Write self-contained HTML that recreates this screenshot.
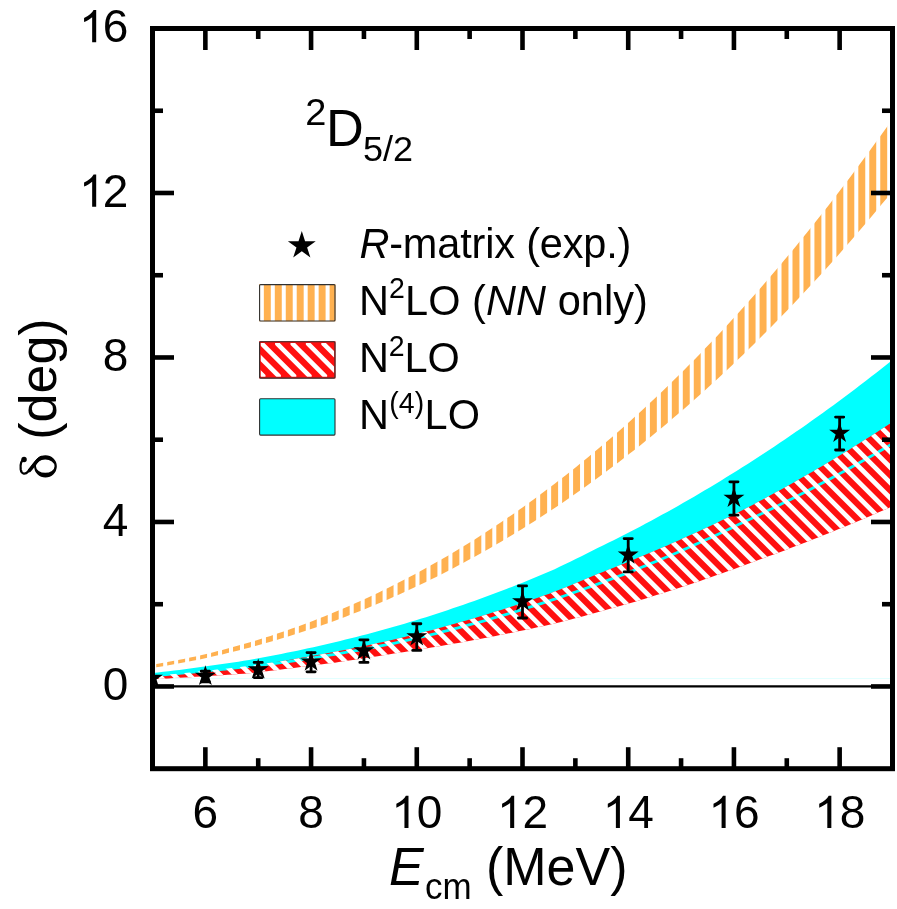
<!DOCTYPE html>
<html><head><meta charset="utf-8"><title>2D5/2 phase shift</title>
<style>html,body{margin:0;padding:0;background:#fff}svg{display:block}text{font-family:"Liberation Sans",sans-serif;fill:#000}</style></head><body>
<svg width="897" height="909" viewBox="0 0 897 909">
<defs>
<clipPath id="plot"><rect x="152.5" y="28.5" width="740.0" height="740.2"/></clipPath>
<clipPath id="cr"><path d="M147.21,676.29 L152.58,675.84 L157.94,675.38 L163.30,674.91 L168.66,674.42 L174.02,673.93 L179.38,673.43 L184.74,672.91 L190.10,672.39 L195.47,671.85 L200.83,671.31 L206.19,670.75 L211.55,670.18 L216.91,669.60 L222.27,669.02 L227.63,668.42 L232.99,667.81 L238.36,667.19 L243.72,666.55 L249.08,665.91 L254.44,665.16 L259.80,664.39 L265.16,663.60 L270.52,662.80 L275.88,661.97 L281.24,661.14 L286.61,660.28 L291.97,659.41 L297.33,658.52 L302.69,657.62 L308.05,656.70 L313.41,655.76 L318.77,654.80 L324.13,653.82 L329.50,652.83 L334.86,651.82 L340.22,650.80 L345.58,649.75 L350.94,648.69 L356.30,647.61 L361.66,646.51 L367.02,645.39 L372.39,644.26 L377.75,643.10 L383.11,641.93 L388.47,640.74 L393.83,639.50 L399.19,638.22 L404.55,636.93 L409.91,635.61 L415.28,634.27 L420.64,632.91 L426.00,631.53 L431.36,630.13 L436.72,628.71 L442.08,627.27 L447.44,625.80 L452.80,624.31 L458.17,622.80 L463.53,621.27 L468.89,619.72 L474.25,618.14 L479.61,616.54 L484.97,614.92 L490.33,613.28 L495.69,611.61 L501.06,609.92 L506.42,608.21 L511.78,606.48 L517.14,604.72 L522.50,602.94 L527.86,601.13 L533.22,599.31 L538.58,597.45 L543.94,595.58 L549.31,593.68 L554.67,591.62 L560.03,589.52 L565.39,587.39 L570.75,585.22 L576.11,583.03 L581.47,580.81 L586.83,578.56 L592.20,576.28 L597.56,573.99 L602.92,571.93 L608.28,569.84 L613.64,567.73 L619.00,565.60 L624.36,563.45 L629.72,561.27 L635.09,559.08 L640.45,556.86 L645.81,554.62 L651.17,552.35 L656.53,550.06 L661.89,547.75 L667.25,545.42 L672.61,543.07 L677.98,540.69 L683.34,538.29 L688.70,535.86 L694.06,533.41 L699.42,530.94 L704.78,528.45 L710.14,525.93 L715.50,523.39 L720.87,520.83 L726.23,518.24 L731.59,515.63 L736.95,512.99 L742.31,510.24 L747.67,507.45 L753.03,504.64 L758.39,501.80 L763.76,498.93 L769.12,496.04 L774.48,493.12 L779.84,490.17 L785.20,487.20 L790.56,484.20 L795.92,481.18 L801.28,478.12 L806.64,475.04 L812.01,471.93 L817.37,468.80 L822.73,465.64 L828.09,462.45 L833.45,459.23 L838.81,455.98 L844.17,452.71 L849.53,449.41 L854.90,446.08 L860.26,442.72 L865.62,439.34 L870.98,435.93 L876.34,432.49 L881.70,429.02 L887.06,425.52 L892.42,422.02 L897.79,418.52 L897.79,503.82 L892.42,506.25 L887.06,508.64 L881.70,510.99 L876.34,513.32 L870.98,515.63 L865.62,517.92 L860.26,520.20 L854.90,522.46 L849.53,524.69 L844.17,526.91 L838.81,529.11 L833.45,531.30 L828.09,533.46 L822.73,535.61 L817.37,537.74 L812.01,539.85 L806.64,541.94 L801.28,544.02 L795.92,546.08 L790.56,548.12 L785.20,550.14 L779.84,552.14 L774.48,554.13 L769.12,556.10 L763.76,558.05 L758.39,559.98 L753.03,561.99 L747.67,563.99 L742.31,565.98 L736.95,567.95 L731.59,569.90 L726.23,571.83 L720.87,573.74 L715.50,575.62 L710.14,577.49 L704.78,579.34 L699.42,581.17 L694.06,582.98 L688.70,584.78 L683.34,586.55 L677.98,588.30 L672.61,590.03 L667.25,591.75 L661.89,593.44 L656.53,595.12 L651.17,596.78 L645.81,598.42 L640.45,600.04 L635.09,601.64 L629.72,603.22 L624.36,604.79 L619.00,606.34 L613.64,607.86 L608.28,609.37 L602.92,610.87 L597.56,612.34 L592.20,613.80 L586.83,615.24 L581.47,616.66 L576.11,618.06 L570.75,619.45 L565.39,620.81 L560.03,622.16 L554.67,623.50 L549.31,624.80 L543.94,625.96 L538.58,627.11 L533.22,628.25 L527.86,629.38 L522.50,630.49 L517.14,631.60 L511.78,632.69 L506.42,633.76 L501.06,634.83 L495.69,635.88 L490.33,636.92 L484.97,637.94 L479.61,638.96 L474.25,639.96 L468.89,640.95 L463.53,641.93 L458.17,642.89 L452.80,643.85 L447.44,644.79 L442.08,645.72 L436.72,646.64 L431.36,647.54 L426.00,648.44 L420.64,649.32 L415.28,650.19 L409.91,651.05 L404.55,651.89 L399.19,652.73 L393.83,653.55 L388.47,654.39 L383.11,655.28 L377.75,656.16 L372.39,657.02 L367.02,657.86 L361.66,658.70 L356.30,659.51 L350.94,660.31 L345.58,661.10 L340.22,661.87 L334.86,662.63 L329.50,663.37 L324.13,664.09 L318.77,664.81 L313.41,665.51 L308.05,666.19 L302.69,666.86 L297.33,667.52 L291.97,668.16 L286.61,668.79 L281.24,669.49 L275.88,670.18 L270.52,670.84 L265.16,671.48 L259.80,672.11 L254.44,672.72 L249.08,673.31 L243.72,673.68 L238.36,674.05 L232.99,674.42 L227.63,674.78 L222.27,675.13 L216.91,675.48 L211.55,675.82 L206.19,676.16 L200.83,676.50 L195.47,676.82 L190.10,677.15 L184.74,677.46 L179.38,677.78 L174.02,678.08 L168.66,678.38 L163.30,678.68 L157.94,678.97 L152.58,679.26 L147.21,679.54Z"/></clipPath>
<clipPath id="co"><path d="M147.21,665.31 L152.58,664.50 L157.94,663.63 L163.30,662.73 L168.66,661.77 L174.02,660.78 L179.38,659.74 L184.74,658.66 L190.10,657.54 L195.47,656.38 L200.83,655.17 L206.19,653.93 L211.55,652.65 L216.91,651.32 L222.27,649.96 L227.63,648.55 L232.99,647.11 L238.36,645.62 L243.72,644.10 L249.08,642.53 L254.44,640.93 L259.80,639.29 L265.16,637.61 L270.52,635.88 L275.88,634.12 L281.24,632.32 L286.61,630.48 L291.97,628.60 L297.33,626.68 L302.69,624.72 L308.05,622.71 L313.41,620.67 L318.77,618.59 L324.13,616.46 L329.50,614.30 L334.86,612.09 L340.22,609.84 L345.58,607.55 L350.94,605.22 L356.30,602.85 L361.66,600.43 L367.02,597.98 L372.39,595.48 L377.75,592.93 L383.11,590.35 L388.47,587.72 L393.83,585.05 L399.19,582.33 L404.55,579.57 L409.91,576.77 L415.28,573.92 L420.64,571.03 L426.00,568.09 L431.36,565.11 L436.72,562.09 L442.08,559.02 L447.44,555.90 L452.80,552.74 L458.17,549.53 L463.53,546.27 L468.89,542.97 L474.25,539.63 L479.61,536.23 L484.97,532.79 L490.33,529.31 L495.69,525.77 L501.06,522.19 L506.42,518.56 L511.78,514.88 L517.14,511.15 L522.50,507.38 L527.86,503.56 L533.22,499.69 L538.58,495.77 L543.94,491.80 L549.31,487.78 L554.67,483.71 L560.03,479.59 L565.39,475.42 L570.75,471.20 L576.11,466.93 L581.47,462.62 L586.83,458.25 L592.20,453.82 L597.56,449.35 L602.92,444.83 L608.28,440.25 L613.64,435.63 L619.00,430.95 L624.36,426.22 L629.72,421.43 L635.09,416.60 L640.45,411.71 L645.81,406.77 L651.17,401.77 L656.53,396.73 L661.89,391.63 L667.25,386.47 L672.61,381.26 L677.98,376.00 L683.34,370.68 L688.70,365.31 L694.06,359.88 L699.42,354.40 L704.78,348.87 L710.14,343.28 L715.50,337.63 L720.87,331.93 L726.23,326.17 L731.59,320.36 L736.95,314.49 L742.31,308.56 L747.67,302.58 L753.03,296.54 L758.39,290.45 L763.76,284.29 L769.12,278.09 L774.48,271.82 L779.84,265.49 L785.20,259.11 L790.56,252.67 L795.92,246.17 L801.28,239.62 L806.64,233.00 L812.01,226.33 L817.37,219.60 L822.73,212.81 L828.09,205.96 L833.45,199.05 L838.81,192.08 L844.17,185.05 L849.53,177.96 L854.90,170.81 L860.26,163.61 L865.62,156.34 L870.98,149.01 L876.34,141.62 L881.70,134.17 L887.06,126.66 L892.42,119.09 L897.79,111.45 L897.79,184.75 L892.42,191.35 L887.06,197.89 L881.70,204.37 L876.34,210.81 L870.98,217.20 L865.62,223.53 L860.26,229.81 L854.90,236.05 L849.53,242.23 L844.17,248.36 L838.81,254.44 L833.45,260.47 L828.09,266.45 L822.73,272.38 L817.37,278.26 L812.01,284.09 L806.64,289.87 L801.28,295.60 L795.92,301.28 L790.56,306.91 L785.20,312.50 L779.84,318.03 L774.48,323.52 L769.12,328.95 L763.76,334.34 L758.39,339.68 L753.03,344.97 L747.67,350.21 L742.31,355.40 L736.95,360.55 L731.59,365.65 L726.23,370.70 L720.87,375.70 L715.50,380.66 L710.14,385.56 L704.78,390.42 L699.42,395.24 L694.06,400.01 L688.70,404.73 L683.34,409.40 L677.98,414.03 L672.61,418.61 L667.25,423.14 L661.89,427.63 L656.53,432.07 L651.17,436.47 L645.81,440.82 L640.45,445.13 L635.09,449.39 L629.72,453.61 L624.36,457.78 L619.00,461.90 L613.64,465.98 L608.28,470.02 L602.92,474.01 L597.56,477.96 L592.20,481.87 L586.83,485.73 L581.47,489.54 L576.11,493.32 L570.75,497.05 L565.39,500.73 L560.03,504.38 L554.67,507.98 L549.31,511.53 L543.94,515.05 L538.58,518.52 L533.22,521.95 L527.86,525.34 L522.50,528.69 L517.14,531.99 L511.78,535.25 L506.42,538.47 L501.06,541.65 L495.69,544.79 L490.33,547.89 L484.97,550.95 L479.61,553.96 L474.25,556.94 L468.89,559.87 L463.53,562.77 L458.17,565.62 L452.80,568.44 L447.44,571.22 L442.08,573.95 L436.72,576.65 L431.36,579.31 L426.00,581.93 L420.64,584.51 L415.28,587.05 L409.91,589.55 L404.55,592.02 L399.19,594.45 L393.83,596.84 L388.47,599.19 L383.11,601.50 L377.75,603.78 L372.39,606.02 L367.02,608.22 L361.66,610.39 L356.30,612.52 L350.94,614.61 L345.58,616.67 L340.22,618.69 L334.86,620.68 L329.50,622.63 L324.13,624.54 L318.77,626.42 L313.41,628.26 L308.05,630.07 L302.69,631.85 L297.33,633.59 L291.97,635.29 L286.61,636.96 L281.24,638.60 L275.88,640.20 L270.52,641.77 L265.16,643.30 L259.80,644.80 L254.44,646.27 L249.08,647.71 L243.72,649.11 L238.36,650.47 L232.99,651.81 L227.63,653.11 L222.27,654.38 L216.91,655.62 L211.55,656.82 L206.19,658.00 L200.83,659.14 L195.47,660.24 L190.10,661.32 L184.74,662.36 L179.38,663.37 L174.02,664.35 L168.66,665.29 L163.30,666.20 L157.94,667.08 L152.58,667.93 L147.21,668.74Z"/></clipPath>
<clipPath id="sw2"><rect x="260.7" y="342.9" width="73.4" height="33.8"/></clipPath>
</defs>
<rect width="897" height="909" fill="#fff"/>
<g clip-path="url(#plot)">
<line x1="150" x2="895" y1="678.5" y2="678.5" stroke="#e2ffff" stroke-width="1"/>
<g clip-path="url(#co)">
<rect x="880.25" y="100" width="6.95" height="600" fill="#FFB150"/>
<rect x="869.28" y="100" width="6.95" height="600" fill="#FFB150"/>
<rect x="858.31" y="100" width="6.95" height="600" fill="#FFB150"/>
<rect x="847.34" y="100" width="6.95" height="600" fill="#FFB150"/>
<rect x="836.37" y="100" width="6.95" height="600" fill="#FFB150"/>
<rect x="825.40" y="100" width="6.95" height="600" fill="#FFB150"/>
<rect x="814.43" y="100" width="6.95" height="600" fill="#FFB150"/>
<rect x="803.46" y="100" width="6.95" height="600" fill="#FFB150"/>
<rect x="792.49" y="100" width="6.95" height="600" fill="#FFB150"/>
<rect x="781.52" y="100" width="6.95" height="600" fill="#FFB150"/>
<rect x="770.55" y="100" width="6.95" height="600" fill="#FFB150"/>
<rect x="759.58" y="100" width="6.95" height="600" fill="#FFB150"/>
<rect x="748.61" y="100" width="6.95" height="600" fill="#FFB150"/>
<rect x="737.64" y="100" width="6.95" height="600" fill="#FFB150"/>
<rect x="726.67" y="100" width="6.95" height="600" fill="#FFB150"/>
<rect x="715.70" y="100" width="6.95" height="600" fill="#FFB150"/>
<rect x="704.73" y="100" width="6.95" height="600" fill="#FFB150"/>
<rect x="693.76" y="100" width="6.95" height="600" fill="#FFB150"/>
<rect x="682.79" y="100" width="6.95" height="600" fill="#FFB150"/>
<rect x="671.82" y="100" width="6.95" height="600" fill="#FFB150"/>
<rect x="660.85" y="100" width="6.95" height="600" fill="#FFB150"/>
<rect x="649.88" y="100" width="6.95" height="600" fill="#FFB150"/>
<rect x="638.91" y="100" width="6.95" height="600" fill="#FFB150"/>
<rect x="627.94" y="100" width="6.95" height="600" fill="#FFB150"/>
<rect x="616.97" y="100" width="6.95" height="600" fill="#FFB150"/>
<rect x="606.00" y="100" width="6.95" height="600" fill="#FFB150"/>
<rect x="595.03" y="100" width="6.95" height="600" fill="#FFB150"/>
<rect x="584.06" y="100" width="6.95" height="600" fill="#FFB150"/>
<rect x="573.09" y="100" width="6.95" height="600" fill="#FFB150"/>
<rect x="562.12" y="100" width="6.95" height="600" fill="#FFB150"/>
<rect x="551.15" y="100" width="6.95" height="600" fill="#FFB150"/>
<rect x="540.18" y="100" width="6.95" height="600" fill="#FFB150"/>
<rect x="529.21" y="100" width="6.95" height="600" fill="#FFB150"/>
<rect x="518.24" y="100" width="6.95" height="600" fill="#FFB150"/>
<rect x="507.27" y="100" width="6.95" height="600" fill="#FFB150"/>
<rect x="496.30" y="100" width="6.95" height="600" fill="#FFB150"/>
<rect x="485.33" y="100" width="6.95" height="600" fill="#FFB150"/>
<rect x="474.36" y="100" width="6.95" height="600" fill="#FFB150"/>
<rect x="463.39" y="100" width="6.95" height="600" fill="#FFB150"/>
<rect x="452.42" y="100" width="6.95" height="600" fill="#FFB150"/>
<rect x="441.45" y="100" width="6.95" height="600" fill="#FFB150"/>
<rect x="430.48" y="100" width="6.95" height="600" fill="#FFB150"/>
<rect x="419.51" y="100" width="6.95" height="600" fill="#FFB150"/>
<rect x="408.54" y="100" width="6.95" height="600" fill="#FFB150"/>
<rect x="397.57" y="100" width="6.95" height="600" fill="#FFB150"/>
<rect x="386.60" y="100" width="6.95" height="600" fill="#FFB150"/>
<rect x="375.63" y="100" width="6.95" height="600" fill="#FFB150"/>
<rect x="364.66" y="100" width="6.95" height="600" fill="#FFB150"/>
<rect x="353.69" y="100" width="6.95" height="600" fill="#FFB150"/>
<rect x="342.72" y="100" width="6.95" height="600" fill="#FFB150"/>
<rect x="331.75" y="100" width="6.95" height="600" fill="#FFB150"/>
<rect x="320.78" y="100" width="6.95" height="600" fill="#FFB150"/>
<rect x="309.81" y="100" width="6.95" height="600" fill="#FFB150"/>
<rect x="298.84" y="100" width="6.95" height="600" fill="#FFB150"/>
<rect x="287.87" y="100" width="6.95" height="600" fill="#FFB150"/>
<rect x="276.90" y="100" width="6.95" height="600" fill="#FFB150"/>
<rect x="265.93" y="100" width="6.95" height="600" fill="#FFB150"/>
<rect x="254.96" y="100" width="6.95" height="600" fill="#FFB150"/>
<rect x="243.99" y="100" width="6.95" height="600" fill="#FFB150"/>
<rect x="233.02" y="100" width="6.95" height="600" fill="#FFB150"/>
<rect x="222.05" y="100" width="6.95" height="600" fill="#FFB150"/>
<rect x="211.08" y="100" width="6.95" height="600" fill="#FFB150"/>
<rect x="200.11" y="100" width="6.95" height="600" fill="#FFB150"/>
<rect x="189.14" y="100" width="6.95" height="600" fill="#FFB150"/>
<rect x="178.17" y="100" width="6.95" height="600" fill="#FFB150"/>
<rect x="167.20" y="100" width="6.95" height="600" fill="#FFB150"/>
<rect x="156.23" y="100" width="6.95" height="600" fill="#FFB150"/>
<rect x="145.26" y="100" width="6.95" height="600" fill="#FFB150"/>
<rect x="134.29" y="100" width="6.95" height="600" fill="#FFB150"/>
</g>
<path d="M147.21,673.63 L152.58,673.04 L157.94,672.44 L163.30,671.82 L168.66,671.19 L174.02,670.55 L179.38,669.89 L184.74,669.21 L190.10,668.52 L195.47,667.82 L200.83,667.10 L206.19,666.36 L211.55,665.62 L216.91,664.85 L222.27,664.07 L227.63,663.28 L232.99,662.47 L238.36,661.65 L243.72,660.81 L249.08,659.96 L254.44,659.00 L259.80,658.03 L265.16,657.03 L270.52,656.01 L275.88,654.98 L281.24,653.92 L286.61,652.85 L291.97,651.75 L297.33,650.63 L302.69,649.49 L308.05,648.33 L313.41,647.15 L318.77,645.95 L324.13,644.73 L329.50,643.48 L334.86,642.22 L340.22,640.93 L345.58,639.62 L350.94,638.29 L356.30,636.94 L361.66,635.57 L367.02,634.17 L372.39,632.75 L377.75,631.31 L383.11,629.85 L388.47,628.36 L393.83,626.84 L399.19,625.28 L404.55,623.70 L409.91,622.09 L415.28,620.46 L420.64,618.81 L426.00,617.13 L431.36,615.43 L436.72,613.70 L442.08,611.95 L447.44,610.17 L452.80,608.37 L458.17,606.55 L463.53,604.70 L468.89,602.82 L474.25,600.92 L479.61,598.99 L484.97,597.04 L490.33,595.06 L495.69,593.06 L501.06,591.03 L506.42,588.98 L511.78,586.90 L517.14,584.79 L522.50,582.66 L527.86,580.50 L533.22,578.32 L538.58,576.10 L543.94,573.87 L549.31,571.60 L554.67,569.14 L560.03,566.62 L565.39,564.06 L570.75,561.47 L576.11,558.85 L581.47,556.19 L586.83,553.50 L592.20,550.77 L597.56,548.03 L602.92,545.43 L608.28,542.79 L613.64,540.13 L619.00,537.44 L624.36,534.72 L629.72,531.97 L635.09,529.19 L640.45,526.38 L645.81,523.55 L651.17,520.68 L656.53,517.78 L661.89,514.85 L667.25,511.89 L672.61,508.91 L677.98,505.89 L683.34,502.84 L688.70,499.76 L694.06,496.65 L699.42,493.51 L704.78,490.34 L710.14,487.14 L715.50,483.90 L720.87,480.64 L726.23,477.34 L731.59,474.02 L736.95,470.66 L742.31,467.29 L747.67,463.88 L753.03,460.45 L758.39,456.99 L763.76,453.49 L769.12,449.96 L774.48,446.40 L779.84,442.81 L785.20,439.19 L790.56,435.54 L795.92,431.85 L801.28,428.13 L806.64,424.38 L812.01,420.60 L817.37,416.78 L822.73,412.94 L828.09,409.06 L833.45,405.15 L838.81,401.20 L844.17,397.23 L849.53,393.22 L854.90,389.17 L860.26,385.10 L865.62,380.99 L870.98,376.85 L876.34,372.67 L881.70,368.47 L887.06,364.22 L892.42,359.94 L897.79,355.61 L897.79,440.48 L892.42,443.73 L887.06,446.91 L881.70,450.03 L876.34,453.12 L870.98,456.19 L865.62,459.24 L860.26,462.26 L854.90,465.26 L849.53,468.24 L844.17,471.19 L838.81,474.11 L833.45,477.02 L828.09,479.90 L822.73,482.76 L817.37,485.59 L812.01,488.40 L806.64,491.19 L801.28,493.95 L795.92,496.69 L790.56,499.41 L785.20,502.10 L779.84,504.78 L774.48,507.42 L769.12,510.05 L763.76,512.65 L758.39,515.23 L753.03,517.79 L747.67,520.32 L742.31,522.84 L736.95,525.33 L731.59,527.89 L726.23,530.43 L720.87,532.95 L715.50,535.44 L710.14,537.90 L704.78,540.34 L699.42,542.76 L694.06,545.15 L688.70,547.52 L683.34,549.86 L677.98,552.18 L672.61,554.48 L667.25,556.75 L661.89,559.00 L656.53,561.22 L651.17,563.42 L645.81,565.60 L640.45,567.75 L635.09,569.88 L629.72,571.99 L624.36,574.07 L619.00,576.13 L613.64,578.17 L608.28,580.18 L602.92,582.18 L597.56,584.15 L592.20,586.09 L586.83,588.01 L581.47,589.92 L576.11,591.79 L570.75,593.65 L565.39,595.49 L560.03,597.30 L554.67,599.09 L549.31,600.86 L543.94,602.62 L538.58,604.36 L533.22,606.07 L527.86,607.77 L522.50,609.44 L517.14,611.09 L511.78,612.72 L506.42,614.32 L501.06,615.91 L495.69,617.47 L490.33,619.01 L484.97,620.54 L479.61,622.04 L474.25,623.52 L468.89,624.97 L463.53,626.41 L458.17,627.83 L452.80,629.23 L447.44,630.60 L442.08,631.96 L436.72,633.30 L431.36,634.61 L426.00,635.91 L420.64,637.18 L415.28,638.44 L409.91,639.67 L404.55,640.89 L399.19,642.09 L393.83,643.27 L388.47,644.40 L383.11,645.46 L377.75,646.50 L372.39,647.52 L367.02,648.53 L361.66,649.53 L356.30,650.51 L350.94,651.47 L345.58,652.42 L340.22,653.36 L334.86,654.28 L329.50,655.18 L324.13,656.07 L318.77,656.94 L313.41,657.80 L308.05,658.65 L302.69,659.48 L297.33,660.30 L291.97,661.10 L286.61,661.88 L281.24,662.57 L275.88,663.24 L270.52,663.90 L265.16,664.55 L259.80,665.19 L254.44,665.82 L249.08,666.45 L243.72,667.03 L238.36,667.61 L232.99,668.18 L227.63,668.74 L222.27,669.29 L216.91,669.83 L211.55,670.37 L206.19,670.90 L200.83,671.41 L195.47,671.92 L190.10,672.42 L184.74,672.91 L179.38,673.39 L174.02,673.87 L168.66,674.33 L163.30,674.79 L157.94,675.24 L152.58,675.68 L147.21,676.11Z" fill="#00ffff"/>
<path d="M147.21,676.29 L152.58,675.84 L157.94,675.38 L163.30,674.91 L168.66,674.42 L174.02,673.93 L179.38,673.43 L184.74,672.91 L190.10,672.39 L195.47,671.85 L200.83,671.31 L206.19,670.75 L211.55,670.18 L216.91,669.60 L222.27,669.02 L227.63,668.42 L232.99,667.81 L238.36,667.19 L243.72,666.55 L249.08,665.91 L254.44,665.16 L259.80,664.39 L265.16,663.60 L270.52,662.80 L275.88,661.97 L281.24,661.14 L286.61,660.28 L291.97,659.41 L297.33,658.52 L302.69,657.62 L308.05,656.70 L313.41,655.76 L318.77,654.80 L324.13,653.82 L329.50,652.83 L334.86,651.82 L340.22,650.80 L345.58,649.75 L350.94,648.69 L356.30,647.61 L361.66,646.51 L367.02,645.39 L372.39,644.26 L377.75,643.10 L383.11,641.93 L388.47,640.74 L393.83,639.50 L399.19,638.22 L404.55,636.93 L409.91,635.61 L415.28,634.27 L420.64,632.91 L426.00,631.53 L431.36,630.13 L436.72,628.71 L442.08,627.27 L447.44,625.80 L452.80,624.31 L458.17,622.80 L463.53,621.27 L468.89,619.72 L474.25,618.14 L479.61,616.54 L484.97,614.92 L490.33,613.28 L495.69,611.61 L501.06,609.92 L506.42,608.21 L511.78,606.48 L517.14,604.72 L522.50,602.94 L527.86,601.13 L533.22,599.31 L538.58,597.45 L543.94,595.58 L549.31,593.68 L554.67,591.62 L560.03,589.52 L565.39,587.39 L570.75,585.22 L576.11,583.03 L581.47,580.81 L586.83,578.56 L592.20,576.28 L597.56,573.99 L602.92,571.93 L608.28,569.84 L613.64,567.73 L619.00,565.60 L624.36,563.45 L629.72,561.27 L635.09,559.08 L640.45,556.86 L645.81,554.62 L651.17,552.35 L656.53,550.06 L661.89,547.75 L667.25,545.42 L672.61,543.07 L677.98,540.69 L683.34,538.29 L688.70,535.86 L694.06,533.41 L699.42,530.94 L704.78,528.45 L710.14,525.93 L715.50,523.39 L720.87,520.83 L726.23,518.24 L731.59,515.63 L736.95,512.99 L742.31,510.24 L747.67,507.45 L753.03,504.64 L758.39,501.80 L763.76,498.93 L769.12,496.04 L774.48,493.12 L779.84,490.17 L785.20,487.20 L790.56,484.20 L795.92,481.18 L801.28,478.12 L806.64,475.04 L812.01,471.93 L817.37,468.80 L822.73,465.64 L828.09,462.45 L833.45,459.23 L838.81,455.98 L844.17,452.71 L849.53,449.41 L854.90,446.08 L860.26,442.72 L865.62,439.34 L870.98,435.93 L876.34,432.49 L881.70,429.02 L887.06,425.52 L892.42,422.02 L897.79,418.52 L897.79,503.82 L892.42,506.25 L887.06,508.64 L881.70,510.99 L876.34,513.32 L870.98,515.63 L865.62,517.92 L860.26,520.20 L854.90,522.46 L849.53,524.69 L844.17,526.91 L838.81,529.11 L833.45,531.30 L828.09,533.46 L822.73,535.61 L817.37,537.74 L812.01,539.85 L806.64,541.94 L801.28,544.02 L795.92,546.08 L790.56,548.12 L785.20,550.14 L779.84,552.14 L774.48,554.13 L769.12,556.10 L763.76,558.05 L758.39,559.98 L753.03,561.99 L747.67,563.99 L742.31,565.98 L736.95,567.95 L731.59,569.90 L726.23,571.83 L720.87,573.74 L715.50,575.62 L710.14,577.49 L704.78,579.34 L699.42,581.17 L694.06,582.98 L688.70,584.78 L683.34,586.55 L677.98,588.30 L672.61,590.03 L667.25,591.75 L661.89,593.44 L656.53,595.12 L651.17,596.78 L645.81,598.42 L640.45,600.04 L635.09,601.64 L629.72,603.22 L624.36,604.79 L619.00,606.34 L613.64,607.86 L608.28,609.37 L602.92,610.87 L597.56,612.34 L592.20,613.80 L586.83,615.24 L581.47,616.66 L576.11,618.06 L570.75,619.45 L565.39,620.81 L560.03,622.16 L554.67,623.50 L549.31,624.80 L543.94,625.96 L538.58,627.11 L533.22,628.25 L527.86,629.38 L522.50,630.49 L517.14,631.60 L511.78,632.69 L506.42,633.76 L501.06,634.83 L495.69,635.88 L490.33,636.92 L484.97,637.94 L479.61,638.96 L474.25,639.96 L468.89,640.95 L463.53,641.93 L458.17,642.89 L452.80,643.85 L447.44,644.79 L442.08,645.72 L436.72,646.64 L431.36,647.54 L426.00,648.44 L420.64,649.32 L415.28,650.19 L409.91,651.05 L404.55,651.89 L399.19,652.73 L393.83,653.55 L388.47,654.39 L383.11,655.28 L377.75,656.16 L372.39,657.02 L367.02,657.86 L361.66,658.70 L356.30,659.51 L350.94,660.31 L345.58,661.10 L340.22,661.87 L334.86,662.63 L329.50,663.37 L324.13,664.09 L318.77,664.81 L313.41,665.51 L308.05,666.19 L302.69,666.86 L297.33,667.52 L291.97,668.16 L286.61,668.79 L281.24,669.49 L275.88,670.18 L270.52,670.84 L265.16,671.48 L259.80,672.11 L254.44,672.72 L249.08,673.31 L243.72,673.68 L238.36,674.05 L232.99,674.42 L227.63,674.78 L222.27,675.13 L216.91,675.48 L211.55,675.82 L206.19,676.16 L200.83,676.50 L195.47,676.82 L190.10,677.15 L184.74,677.46 L179.38,677.78 L174.02,678.08 L168.66,678.38 L163.30,678.68 L157.94,678.97 L152.58,679.26 L147.21,679.54Z" fill="#FF1010"/>
<path d="M147.21,676.11 L152.58,675.68 L157.94,675.24 L163.30,674.79 L168.66,674.33 L174.02,673.87 L179.38,673.39 L184.74,672.91 L190.10,672.42 L195.47,671.92 L200.83,671.41 L206.19,670.90 L211.55,670.37 L216.91,669.83 L222.27,669.29 L227.63,668.74 L232.99,668.18 L238.36,667.61 L243.72,667.03 L249.08,666.45 L254.44,665.82 L259.80,665.19 L265.16,664.55 L270.52,663.90 L275.88,663.24 L281.24,662.57 L286.61,661.88 L291.97,661.10 L297.33,660.30 L302.69,659.48 L308.05,658.65 L313.41,657.80 L318.77,656.94 L324.13,656.07 L329.50,655.18 L334.86,654.28 L340.22,653.36 L345.58,652.42 L350.94,651.47 L356.30,650.51 L361.66,649.53 L367.02,648.53 L372.39,647.52 L377.75,646.50 L383.11,645.46 L388.47,644.40 L393.83,643.27 L399.19,642.09 L404.55,640.89 L409.91,639.67 L415.28,638.44 L420.64,637.18 L426.00,635.91 L431.36,634.61 L436.72,633.30 L442.08,631.96 L447.44,630.60 L452.80,629.23 L458.17,627.83 L463.53,626.41 L468.89,624.97 L474.25,623.52 L479.61,622.04 L484.97,620.54 L490.33,619.01 L495.69,617.47 L501.06,615.91 L506.42,614.32 L511.78,612.72 L517.14,611.09 L522.50,609.44 L527.86,607.77 L533.22,606.07 L538.58,604.36 L543.94,602.62 L549.31,600.86 L554.67,599.09 L560.03,597.30 L565.39,595.49 L570.75,593.65 L576.11,591.79 L581.47,589.92 L586.83,588.01 L592.20,586.09 L597.56,584.15 L602.92,582.18 L608.28,580.18 L613.64,578.17 L619.00,576.13 L624.36,574.07 L629.72,571.99 L635.09,569.88 L640.45,567.75 L645.81,565.60 L651.17,563.42 L656.53,561.22 L661.89,559.00 L667.25,556.75 L672.61,554.48 L677.98,552.18 L683.34,549.86 L688.70,547.52 L694.06,545.15 L699.42,542.76 L704.78,540.34 L710.14,537.90 L715.50,535.44 L720.87,532.95 L726.23,530.43 L731.59,527.89 L736.95,525.33 L742.31,522.84 L747.67,520.32 L753.03,517.79 L758.39,515.23 L763.76,512.65 L769.12,510.05 L774.48,507.42 L779.84,504.78 L785.20,502.10 L790.56,499.41 L795.92,496.69 L801.28,493.95 L806.64,491.19 L812.01,488.40 L817.37,485.59 L822.73,482.76 L828.09,479.90 L833.45,477.02 L838.81,474.11 L844.17,471.19 L849.53,468.24 L854.90,465.26 L860.26,462.26 L865.62,459.24 L870.98,456.19 L876.34,453.12 L881.70,450.03 L887.06,446.91 L892.42,443.73 L897.79,440.48" fill="none" stroke="#00ffff" stroke-width="2.80"/>
<g clip-path="url(#cr)" stroke="#fff" stroke-width="4.70">
<line x1="-817.10" y1="300" x2="-397.10" y2="720"/>
<line x1="-801.70" y1="300" x2="-381.70" y2="720"/>
<line x1="-786.30" y1="300" x2="-366.30" y2="720"/>
<line x1="-770.90" y1="300" x2="-350.90" y2="720"/>
<line x1="-755.50" y1="300" x2="-335.50" y2="720"/>
<line x1="-740.10" y1="300" x2="-320.10" y2="720"/>
<line x1="-724.70" y1="300" x2="-304.70" y2="720"/>
<line x1="-709.30" y1="300" x2="-289.30" y2="720"/>
<line x1="-693.90" y1="300" x2="-273.90" y2="720"/>
<line x1="-678.50" y1="300" x2="-258.50" y2="720"/>
<line x1="-663.10" y1="300" x2="-243.10" y2="720"/>
<line x1="-647.70" y1="300" x2="-227.70" y2="720"/>
<line x1="-632.30" y1="300" x2="-212.30" y2="720"/>
<line x1="-616.90" y1="300" x2="-196.90" y2="720"/>
<line x1="-601.50" y1="300" x2="-181.50" y2="720"/>
<line x1="-586.10" y1="300" x2="-166.10" y2="720"/>
<line x1="-570.70" y1="300" x2="-150.70" y2="720"/>
<line x1="-555.30" y1="300" x2="-135.30" y2="720"/>
<line x1="-539.90" y1="300" x2="-119.90" y2="720"/>
<line x1="-524.50" y1="300" x2="-104.50" y2="720"/>
<line x1="-509.10" y1="300" x2="-89.10" y2="720"/>
<line x1="-493.70" y1="300" x2="-73.70" y2="720"/>
<line x1="-478.30" y1="300" x2="-58.30" y2="720"/>
<line x1="-462.90" y1="300" x2="-42.90" y2="720"/>
<line x1="-447.50" y1="300" x2="-27.50" y2="720"/>
<line x1="-432.10" y1="300" x2="-12.10" y2="720"/>
<line x1="-416.70" y1="300" x2="3.30" y2="720"/>
<line x1="-401.30" y1="300" x2="18.70" y2="720"/>
<line x1="-385.90" y1="300" x2="34.10" y2="720"/>
<line x1="-370.50" y1="300" x2="49.50" y2="720"/>
<line x1="-355.10" y1="300" x2="64.90" y2="720"/>
<line x1="-339.70" y1="300" x2="80.30" y2="720"/>
<line x1="-324.30" y1="300" x2="95.70" y2="720"/>
<line x1="-308.90" y1="300" x2="111.10" y2="720"/>
<line x1="-293.50" y1="300" x2="126.50" y2="720"/>
<line x1="-278.10" y1="300" x2="141.90" y2="720"/>
<line x1="-262.70" y1="300" x2="157.30" y2="720"/>
<line x1="-247.30" y1="300" x2="172.70" y2="720"/>
<line x1="-231.90" y1="300" x2="188.10" y2="720"/>
<line x1="-216.50" y1="300" x2="203.50" y2="720"/>
<line x1="-201.10" y1="300" x2="218.90" y2="720"/>
<line x1="-185.70" y1="300" x2="234.30" y2="720"/>
<line x1="-170.30" y1="300" x2="249.70" y2="720"/>
<line x1="-154.90" y1="300" x2="265.10" y2="720"/>
<line x1="-139.50" y1="300" x2="280.50" y2="720"/>
<line x1="-124.10" y1="300" x2="295.90" y2="720"/>
<line x1="-108.70" y1="300" x2="311.30" y2="720"/>
<line x1="-93.30" y1="300" x2="326.70" y2="720"/>
<line x1="-77.90" y1="300" x2="342.10" y2="720"/>
<line x1="-62.50" y1="300" x2="357.50" y2="720"/>
<line x1="-47.10" y1="300" x2="372.90" y2="720"/>
<line x1="-31.70" y1="300" x2="388.30" y2="720"/>
<line x1="-16.30" y1="300" x2="403.70" y2="720"/>
<line x1="-0.90" y1="300" x2="419.10" y2="720"/>
<line x1="14.50" y1="300" x2="434.50" y2="720"/>
<line x1="29.90" y1="300" x2="449.90" y2="720"/>
<line x1="45.30" y1="300" x2="465.30" y2="720"/>
<line x1="60.70" y1="300" x2="480.70" y2="720"/>
<line x1="76.10" y1="300" x2="496.10" y2="720"/>
<line x1="91.50" y1="300" x2="511.50" y2="720"/>
<line x1="106.90" y1="300" x2="526.90" y2="720"/>
<line x1="122.30" y1="300" x2="542.30" y2="720"/>
<line x1="137.70" y1="300" x2="557.70" y2="720"/>
<line x1="153.10" y1="300" x2="573.10" y2="720"/>
<line x1="168.50" y1="300" x2="588.50" y2="720"/>
<line x1="183.90" y1="300" x2="603.90" y2="720"/>
<line x1="199.30" y1="300" x2="619.30" y2="720"/>
<line x1="214.70" y1="300" x2="634.70" y2="720"/>
<line x1="230.10" y1="300" x2="650.10" y2="720"/>
<line x1="245.50" y1="300" x2="665.50" y2="720"/>
<line x1="260.90" y1="300" x2="680.90" y2="720"/>
<line x1="276.30" y1="300" x2="696.30" y2="720"/>
<line x1="291.70" y1="300" x2="711.70" y2="720"/>
<line x1="307.10" y1="300" x2="727.10" y2="720"/>
<line x1="322.50" y1="300" x2="742.50" y2="720"/>
<line x1="337.90" y1="300" x2="757.90" y2="720"/>
<line x1="353.30" y1="300" x2="773.30" y2="720"/>
<line x1="368.70" y1="300" x2="788.70" y2="720"/>
<line x1="384.10" y1="300" x2="804.10" y2="720"/>
<line x1="399.50" y1="300" x2="819.50" y2="720"/>
<line x1="414.90" y1="300" x2="834.90" y2="720"/>
<line x1="430.30" y1="300" x2="850.30" y2="720"/>
<line x1="445.70" y1="300" x2="865.70" y2="720"/>
<line x1="461.10" y1="300" x2="881.10" y2="720"/>
<line x1="476.50" y1="300" x2="896.50" y2="720"/>
<line x1="491.90" y1="300" x2="911.90" y2="720"/>
<line x1="507.30" y1="300" x2="927.30" y2="720"/>
<line x1="522.70" y1="300" x2="942.70" y2="720"/>
<line x1="538.10" y1="300" x2="958.10" y2="720"/>
<line x1="553.50" y1="300" x2="973.50" y2="720"/>
<line x1="568.90" y1="300" x2="988.90" y2="720"/>
<line x1="584.30" y1="300" x2="1004.30" y2="720"/>
<line x1="599.70" y1="300" x2="1019.70" y2="720"/>
<line x1="615.10" y1="300" x2="1035.10" y2="720"/>
<line x1="630.50" y1="300" x2="1050.50" y2="720"/>
<line x1="645.90" y1="300" x2="1065.90" y2="720"/>
<line x1="661.30" y1="300" x2="1081.30" y2="720"/>
<line x1="676.70" y1="300" x2="1096.70" y2="720"/>
<line x1="692.10" y1="300" x2="1112.10" y2="720"/>
<line x1="707.50" y1="300" x2="1127.50" y2="720"/>
<line x1="722.90" y1="300" x2="1142.90" y2="720"/>
<line x1="738.30" y1="300" x2="1158.30" y2="720"/>
<line x1="753.70" y1="300" x2="1173.70" y2="720"/>
<line x1="769.10" y1="300" x2="1189.10" y2="720"/>
<line x1="784.50" y1="300" x2="1204.50" y2="720"/>
<line x1="799.90" y1="300" x2="1219.90" y2="720"/>
<line x1="815.30" y1="300" x2="1235.30" y2="720"/>
<line x1="830.70" y1="300" x2="1250.70" y2="720"/>
<line x1="846.10" y1="300" x2="1266.10" y2="720"/>
<line x1="861.50" y1="300" x2="1281.50" y2="720"/>
<line x1="876.90" y1="300" x2="1296.90" y2="720"/>
<line x1="892.30" y1="300" x2="1312.30" y2="720"/>
<line x1="907.70" y1="300" x2="1327.70" y2="720"/>
<line x1="923.10" y1="300" x2="1343.10" y2="720"/>
<line x1="938.50" y1="300" x2="1358.50" y2="720"/>
<line x1="953.90" y1="300" x2="1373.90" y2="720"/>
<line x1="969.30" y1="300" x2="1389.30" y2="720"/>
<line x1="984.70" y1="300" x2="1404.70" y2="720"/>
<line x1="1000.10" y1="300" x2="1420.10" y2="720"/>
<line x1="1015.50" y1="300" x2="1435.50" y2="720"/>
<line x1="1030.90" y1="300" x2="1450.90" y2="720"/>
<line x1="1046.30" y1="300" x2="1466.30" y2="720"/>
<line x1="1061.70" y1="300" x2="1481.70" y2="720"/>
<line x1="1077.10" y1="300" x2="1497.10" y2="720"/>
<line x1="1092.50" y1="300" x2="1512.50" y2="720"/>
<line x1="1107.90" y1="300" x2="1527.90" y2="720"/>
<line x1="1123.30" y1="300" x2="1543.30" y2="720"/>
<line x1="1138.70" y1="300" x2="1558.70" y2="720"/>
<line x1="1154.10" y1="300" x2="1574.10" y2="720"/>
<line x1="1169.50" y1="300" x2="1589.50" y2="720"/>
<line x1="1184.90" y1="300" x2="1604.90" y2="720"/>
<line x1="1200.30" y1="300" x2="1620.30" y2="720"/>
<line x1="1215.70" y1="300" x2="1635.70" y2="720"/>
<line x1="1231.10" y1="300" x2="1651.10" y2="720"/>
<line x1="1246.50" y1="300" x2="1666.50" y2="720"/>
<line x1="1261.90" y1="300" x2="1681.90" y2="720"/>
<line x1="1277.30" y1="300" x2="1697.30" y2="720"/>
<line x1="1292.70" y1="300" x2="1712.70" y2="720"/>
<line x1="1308.10" y1="300" x2="1728.10" y2="720"/>
<line x1="1323.50" y1="300" x2="1743.50" y2="720"/>
<line x1="1338.90" y1="300" x2="1758.90" y2="720"/>
<line x1="1354.30" y1="300" x2="1774.30" y2="720"/>
<line x1="1369.70" y1="300" x2="1789.70" y2="720"/>
<line x1="1385.10" y1="300" x2="1805.10" y2="720"/>
<line x1="1400.50" y1="300" x2="1820.50" y2="720"/>
<line x1="1415.90" y1="300" x2="1835.90" y2="720"/>
<line x1="1431.30" y1="300" x2="1851.30" y2="720"/>
<line x1="1446.70" y1="300" x2="1866.70" y2="720"/>
<line x1="1462.10" y1="300" x2="1882.10" y2="720"/>
<line x1="1477.50" y1="300" x2="1897.50" y2="720"/>
<line x1="1492.90" y1="300" x2="1912.90" y2="720"/>
<line x1="1508.30" y1="300" x2="1928.30" y2="720"/>
<line x1="1523.70" y1="300" x2="1943.70" y2="720"/>
<line x1="1539.10" y1="300" x2="1959.10" y2="720"/>
<line x1="1554.50" y1="300" x2="1974.50" y2="720"/>
<line x1="1569.90" y1="300" x2="1989.90" y2="720"/>
<line x1="1585.30" y1="300" x2="2005.30" y2="720"/>
<line x1="1600.70" y1="300" x2="2020.70" y2="720"/>
<line x1="1616.10" y1="300" x2="2036.10" y2="720"/>
<line x1="1631.50" y1="300" x2="2051.50" y2="720"/>
</g>
<line x1="152.5" x2="892.5" y1="686.46" y2="686.46" stroke="#000" stroke-width="2.2"/>
<path d="M152.50,667.24 L154.97,674.84 L162.96,674.84 L156.50,679.54 L158.97,687.14 L152.50,682.44 L146.03,687.14 L148.50,679.54 L142.04,674.84 L150.03,674.84Z" fill="#000"/>
<path d="M205.36,671.24 V681.93 M201.26,671.24 H209.46 M201.26,681.93 H209.46" stroke="#000" stroke-width="2.8" stroke-linecap="round" fill="none"/>
<path d="M205.36,665.19 L207.83,672.79 L215.82,672.79 L209.35,677.48 L211.82,685.09 L205.36,680.39 L198.89,685.09 L201.36,677.48 L194.90,672.79 L202.89,672.79Z" fill="#000"/>
<path d="M258.21,662.40 V677.61 M254.11,662.40 H262.31 M254.11,677.61 H262.31" stroke="#000" stroke-width="2.8" stroke-linecap="round" fill="none"/>
<path d="M258.21,658.61 L260.68,666.21 L268.68,666.21 L262.21,670.91 L264.68,678.51 L258.21,673.81 L251.75,678.51 L254.22,670.91 L247.75,666.21 L255.74,666.21Z" fill="#000"/>
<path d="M311.07,652.53 V671.86 M306.97,652.53 H315.17 M306.97,671.86 H315.17" stroke="#000" stroke-width="2.8" stroke-linecap="round" fill="none"/>
<path d="M311.07,650.79 L313.54,658.39 L321.53,658.39 L315.07,663.09 L317.54,670.69 L311.07,666.00 L304.61,670.69 L307.08,663.09 L300.61,658.39 L308.60,658.39Z" fill="#000"/>
<path d="M363.93,639.78 V662.40 M359.83,639.78 H368.03 M359.83,662.40 H368.03" stroke="#000" stroke-width="2.8" stroke-linecap="round" fill="none"/>
<path d="M363.93,639.69 L366.40,647.29 L374.39,647.29 L367.92,651.99 L370.39,659.59 L363.93,654.89 L357.46,659.59 L359.93,651.99 L353.47,647.29 L361.46,647.29Z" fill="#000"/>
<path d="M416.79,623.74 V650.47 M412.69,623.74 H420.89 M412.69,650.47 H420.89" stroke="#000" stroke-width="2.8" stroke-linecap="round" fill="none"/>
<path d="M416.79,625.71 L419.26,633.31 L427.25,633.31 L420.78,638.01 L423.25,645.61 L416.79,640.91 L410.32,645.61 L412.79,638.01 L406.32,633.31 L414.32,633.31Z" fill="#000"/>
<path d="M522.50,585.91 V617.99 M518.40,585.91 H526.60 M518.40,617.99 H526.60" stroke="#000" stroke-width="2.8" stroke-linecap="round" fill="none"/>
<path d="M522.50,590.55 L524.97,598.15 L532.96,598.15 L526.50,602.85 L528.97,610.45 L522.50,605.75 L516.03,610.45 L518.50,602.85 L512.04,598.15 L520.03,598.15Z" fill="#000"/>
<path d="M628.21,538.62 V571.93 M624.11,538.62 H632.31 M624.11,571.93 H632.31" stroke="#000" stroke-width="2.8" stroke-linecap="round" fill="none"/>
<path d="M628.21,543.88 L630.68,551.48 L638.68,551.48 L632.21,556.17 L634.68,563.77 L628.21,559.08 L621.75,563.77 L624.22,556.17 L617.75,551.48 L625.74,551.48Z" fill="#000"/>
<path d="M733.93,481.87 V515.18 M729.83,481.87 H738.03 M729.83,515.18 H738.03" stroke="#000" stroke-width="2.8" stroke-linecap="round" fill="none"/>
<path d="M733.93,487.13 L736.40,494.73 L744.39,494.73 L737.92,499.43 L740.39,507.03 L733.93,502.33 L727.46,507.03 L729.93,499.43 L723.47,494.73 L731.46,494.73Z" fill="#000"/>
<path d="M839.64,417.11 V450.00 M835.54,417.11 H843.74 M835.54,450.00 H843.74" stroke="#000" stroke-width="2.8" stroke-linecap="round" fill="none"/>
<path d="M839.64,422.15 L842.11,429.75 L850.10,429.75 L843.64,434.45 L846.11,442.05 L839.64,437.36 L833.18,442.05 L835.65,434.45 L829.18,429.75 L837.17,429.75Z" fill="#000"/>
</g>
<g stroke="#000" stroke-width="4.60" fill="none">
<line x1="205.36" x2="205.36" y1="768.70" y2="747.20"/>
<line x1="205.36" x2="205.36" y1="28.50" y2="50.00"/>
<line x1="258.21" x2="258.21" y1="768.70" y2="758.20"/>
<line x1="258.21" x2="258.21" y1="28.50" y2="39.00"/>
<line x1="311.07" x2="311.07" y1="768.70" y2="747.20"/>
<line x1="311.07" x2="311.07" y1="28.50" y2="50.00"/>
<line x1="363.93" x2="363.93" y1="768.70" y2="758.20"/>
<line x1="363.93" x2="363.93" y1="28.50" y2="39.00"/>
<line x1="416.79" x2="416.79" y1="768.70" y2="747.20"/>
<line x1="416.79" x2="416.79" y1="28.50" y2="50.00"/>
<line x1="469.64" x2="469.64" y1="768.70" y2="758.20"/>
<line x1="469.64" x2="469.64" y1="28.50" y2="39.00"/>
<line x1="522.50" x2="522.50" y1="768.70" y2="747.20"/>
<line x1="522.50" x2="522.50" y1="28.50" y2="50.00"/>
<line x1="575.36" x2="575.36" y1="768.70" y2="758.20"/>
<line x1="575.36" x2="575.36" y1="28.50" y2="39.00"/>
<line x1="628.21" x2="628.21" y1="768.70" y2="747.20"/>
<line x1="628.21" x2="628.21" y1="28.50" y2="50.00"/>
<line x1="681.07" x2="681.07" y1="768.70" y2="758.20"/>
<line x1="681.07" x2="681.07" y1="28.50" y2="39.00"/>
<line x1="733.93" x2="733.93" y1="768.70" y2="747.20"/>
<line x1="733.93" x2="733.93" y1="28.50" y2="50.00"/>
<line x1="786.79" x2="786.79" y1="768.70" y2="758.20"/>
<line x1="786.79" x2="786.79" y1="28.50" y2="39.00"/>
<line x1="839.64" x2="839.64" y1="768.70" y2="747.20"/>
<line x1="839.64" x2="839.64" y1="28.50" y2="50.00"/>
<line x1="152.50" x2="174.00" y1="686.46" y2="686.46"/>
<line x1="892.50" x2="871.00" y1="686.46" y2="686.46"/>
<line x1="152.50" x2="163.00" y1="604.21" y2="604.21"/>
<line x1="892.50" x2="882.00" y1="604.21" y2="604.21"/>
<line x1="152.50" x2="174.00" y1="521.97" y2="521.97"/>
<line x1="892.50" x2="871.00" y1="521.97" y2="521.97"/>
<line x1="152.50" x2="163.00" y1="439.72" y2="439.72"/>
<line x1="892.50" x2="882.00" y1="439.72" y2="439.72"/>
<line x1="152.50" x2="174.00" y1="357.48" y2="357.48"/>
<line x1="892.50" x2="871.00" y1="357.48" y2="357.48"/>
<line x1="152.50" x2="163.00" y1="275.23" y2="275.23"/>
<line x1="892.50" x2="882.00" y1="275.23" y2="275.23"/>
<line x1="152.50" x2="174.00" y1="192.99" y2="192.99"/>
<line x1="892.50" x2="871.00" y1="192.99" y2="192.99"/>
<line x1="152.50" x2="163.00" y1="110.74" y2="110.74"/>
<line x1="892.50" x2="882.00" y1="110.74" y2="110.74"/>
</g>
<rect x="152.5" y="28.5" width="740.0" height="740.2" fill="none" stroke="#000" stroke-width="5"/>
<g opacity="0.999">
<text transform="translate(205.36,828.00) scale(1,1.0000)" font-size="46.00" text-anchor="middle">6</text>
<text transform="translate(311.07,828.00) scale(1,1.0000)" font-size="46.00" text-anchor="middle">8</text>
<path d="M763 0H583V1147Q518 1085 412.5 1023T223 930V1104Q375 1175.5 488.5 1277T647 1474H763Z" transform="translate(391.35,828.00) scale(0.02246,-0.02190)" fill="#000"/>
<text transform="translate(416.79,828.00) scale(1,1.0000)" font-size="46.00">0</text>
<path d="M763 0H583V1147Q518 1085 412.5 1023T223 930V1104Q375 1175.5 488.5 1277T647 1474H763Z" transform="translate(497.06,828.00) scale(0.02246,-0.02190)" fill="#000"/>
<text transform="translate(522.50,828.00) scale(1,1.0000)" font-size="46.00">2</text>
<path d="M763 0H583V1147Q518 1085 412.5 1023T223 930V1104Q375 1175.5 488.5 1277T647 1474H763Z" transform="translate(602.78,828.00) scale(0.02246,-0.02190)" fill="#000"/>
<text transform="translate(628.21,828.00) scale(1,1.0000)" font-size="46.00">4</text>
<path d="M763 0H583V1147Q518 1085 412.5 1023T223 930V1104Q375 1175.5 488.5 1277T647 1474H763Z" transform="translate(708.49,828.00) scale(0.02246,-0.02190)" fill="#000"/>
<text transform="translate(733.93,828.00) scale(1,1.0000)" font-size="46.00">6</text>
<path d="M763 0H583V1147Q518 1085 412.5 1023T223 930V1104Q375 1175.5 488.5 1277T647 1474H763Z" transform="translate(814.21,828.00) scale(0.02246,-0.02190)" fill="#000"/>
<text transform="translate(839.64,828.00) scale(1,1.0000)" font-size="46.00">8</text>
<text transform="translate(128.30,700.26) scale(1,1.0000)" font-size="46.00" text-anchor="end">0</text>
<text transform="translate(128.30,535.77) scale(1,1.0000)" font-size="46.00" text-anchor="end">4</text>
<text transform="translate(128.30,371.28) scale(1,1.0000)" font-size="46.00" text-anchor="end">8</text>
<path d="M763 0H583V1147Q518 1085 412.5 1023T223 930V1104Q375 1175.5 488.5 1277T647 1474H763Z" transform="translate(79.06,206.79) scale(0.02246,-0.02190)" fill="#000"/>
<text transform="translate(128.30,206.79) scale(1,1.0000)" font-size="46.00" text-anchor="end">2</text>
<path d="M763 0H583V1147Q518 1085 412.5 1023T223 930V1104Q375 1175.5 488.5 1277T647 1474H763Z" transform="translate(79.06,42.30) scale(0.02246,-0.02190)" fill="#000"/>
<text transform="translate(128.30,42.30) scale(1,1.0000)" font-size="46.00" text-anchor="end">6</text>
<text transform="translate(389.00,885.10) scale(1,1.0300)" font-size="52.00" font-style="italic">E</text>
<text transform="translate(425.00,898.70) scale(1,1.0300)" font-size="35.00">cm</text>
<text transform="translate(486.00,885.10) scale(1,1.0300)" font-size="52.00">(MeV)</text>
<text transform="translate(56.20,439.70) rotate(-90) scale(1,0.9900)" font-size="52.00">(deg)</text>
<g transform="translate(10.00,440.00) scale(0.06689)">
<path fill-rule="evenodd" fill="#000" d="M360,394 A170,166 0 1 1 700,394 A170,166 0 1 1 360,394 Z M388,392 A139,99 0 1 0 666,392 A139,99 0 1 0 388,392 Z"/>
<path d="M455,262 C385,300 335,400 272,470 C232,515 172,520 160,440 C152,370 172,305 210,288" fill="none" stroke="#000" stroke-width="34" stroke-linecap="round"/>
<path d="M470,262 C400,296 350,392 290,455" fill="none" stroke="#000" stroke-width="52" stroke-linecap="round"/>
<circle cx="210" cy="290" r="41" fill="#000"/>
</g>
<text transform="translate(305.20,125.00) scale(1,0.9500)" font-size="38.00">2</text>
<text transform="translate(326.00,146.30) scale(1,1.0000)" font-size="52.30">D</text>
<text transform="translate(363.10,160.90) scale(1,0.9750)" font-size="36.00">5/2</text>
<path d="M301.80,231.10 L305.09,241.22 L315.73,241.22 L307.12,247.48 L310.41,257.60 L301.80,251.35 L293.19,257.60 L296.48,247.48 L287.87,241.22 L298.51,241.22Z" fill="#000"/>
<text transform="translate(359.40,258.20) scale(1,1.0380)" font-size="41.50" letter-spacing="-0.160"><tspan font-style="italic">R</tspan>-matrix (exp.)</text>
<text transform="translate(359.00,314.50) scale(1,1.0380)" font-size="41.50" letter-spacing="0.080">N<tspan font-size="28.5" dy="-15.8">2</tspan><tspan dy="15.8">LO (</tspan><tspan font-style="italic">NN</tspan> only)</text>
<text transform="translate(359.00,371.90) scale(1,1.0380)" font-size="41.50" letter-spacing="-0.160">N<tspan font-size="28.5" dy="-15.8">2</tspan><tspan dy="15.8">LO</tspan></text>
<text transform="translate(359.00,429.00) scale(1,1.0380)" font-size="41.50" letter-spacing="0.190">N<tspan font-size="28.5" dy="-15.8">(4)</tspan><tspan dy="15.8">LO</tspan></text>
</g>
<rect x="259.1" y="284.1" width="76.4" height="37.2" fill="#FFB150"/>
<rect x="259.84" y="284.1" width="4.0" height="37.2" fill="#fff"/>
<rect x="270.80" y="284.1" width="4.0" height="37.2" fill="#fff"/>
<rect x="281.76" y="284.1" width="4.0" height="37.2" fill="#fff"/>
<rect x="292.72" y="284.1" width="4.0" height="37.2" fill="#fff"/>
<rect x="303.68" y="284.1" width="4.0" height="37.2" fill="#fff"/>
<rect x="314.64" y="284.1" width="4.0" height="37.2" fill="#fff"/>
<rect x="325.60" y="284.1" width="4.0" height="37.2" fill="#fff"/>
<rect x="259.6" y="284.6" width="75.4" height="36.4" rx="1" fill="none" stroke="#303030" stroke-width="1.1"/>
<rect x="259.1" y="341.2" width="76.4" height="37.2" fill="#FF1010"/>
<g clip-path="url(#sw2)" stroke="#fff" stroke-width="4.6" stroke-linecap="round">
<line x1="215.80" y1="343.90" x2="247.80" y2="375.90"/>
<line x1="231.20" y1="343.90" x2="263.20" y2="375.90"/>
<line x1="246.60" y1="343.90" x2="278.60" y2="375.90"/>
<line x1="262.00" y1="343.90" x2="294.00" y2="375.90"/>
<line x1="277.40" y1="343.90" x2="309.40" y2="375.90"/>
<line x1="292.80" y1="343.90" x2="324.80" y2="375.90"/>
<line x1="308.20" y1="343.90" x2="340.20" y2="375.90"/>
<line x1="323.60" y1="343.90" x2="355.60" y2="375.90"/>
<line x1="339.00" y1="343.90" x2="371.00" y2="375.90"/>
</g>
<rect x="259.6" y="341.7" width="75.4" height="36.4" rx="1" fill="none" stroke="#303030" stroke-width="1.1"/>
<rect x="259.6" y="398.7" width="75.4" height="36.4" rx="1" fill="#00ffff" stroke="#303030" stroke-width="1.1"/>
</svg></body></html>
